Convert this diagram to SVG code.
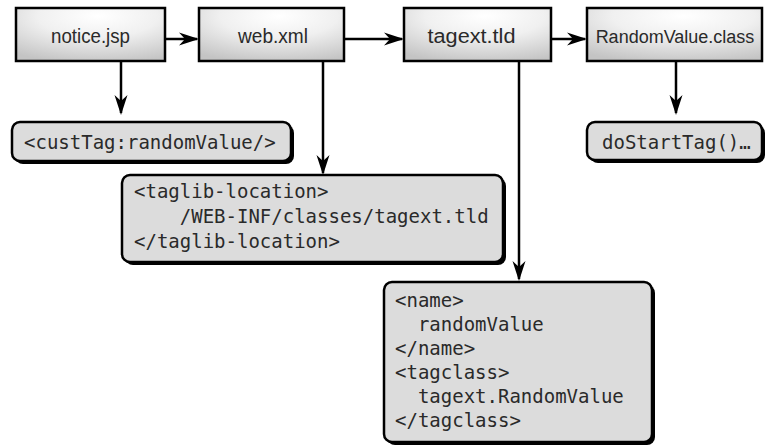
<svg xmlns="http://www.w3.org/2000/svg" width="767" height="448" viewBox="0 0 767 448">
<style>
.top{stroke:#000;stroke-width:2.5;fill:url(#g)}
.tl{font-family:"Liberation Sans",Arial,sans-serif;font-size:20px;fill:#2a2a2a;text-anchor:middle}
.code{fill:#dcdcdc;stroke:#000;stroke-width:2.5}
.sh{fill:#000}
.mono{font-family:"DejaVu Sans Mono","Liberation Mono",monospace;font-size:19px;fill:#2a2a2a}
.c{stroke:#000;stroke-width:2.5;fill:none;marker-end:url(#ah)}
</style>
<defs>
<radialGradient id="g" cx="0.55" cy="0.15" r="0.9">
<stop offset="0" stop-color="#ffffff"/>
<stop offset="0.45" stop-color="#f0f0f0"/>
<stop offset="1" stop-color="#c4c4c4"/>
</radialGradient>
<marker id="ah" viewBox="-21 -7 22 14" refX="-2" refY="0" markerWidth="22" markerHeight="14" markerUnits="userSpaceOnUse" orient="auto">
<path d="M0,0 L-20,-6.5 L-14,0 L-20,6.5 Z" fill="#000"/>
</marker>
</defs>
<g id="connectors">
<line class="c" x1="165" y1="39" x2="197" y2="39"/>
<line class="c" x1="345" y1="39" x2="402" y2="39"/>
<line class="c" x1="552" y1="39" x2="585" y2="39"/>
<line class="c" x1="121" y1="62" x2="121" y2="113"/>
<line class="c" x1="323" y1="62" x2="323" y2="173"/>
<line class="c" x1="519" y1="62" x2="519" y2="279"/>
<line class="c" x1="676" y1="62" x2="676" y2="113"/>
</g>
<g id="notice">
<rect class="top" x="16" y="8" width="149" height="53"/>
<text class="tl" x="90.5" y="43" textLength="79" lengthAdjust="spacingAndGlyphs">notice.jsp</text>
</g>
<g id="webxml">
<rect class="top" x="199" y="8" width="145" height="53"/>
<text class="tl" x="273" y="43" textLength="70" lengthAdjust="spacingAndGlyphs">web.xml</text>
</g>
<g id="tagext">
<rect class="top" x="404" y="8" width="147" height="53"/>
<text class="tl" x="471.5" y="43" textLength="88" lengthAdjust="spacingAndGlyphs">tagext.tld</text>
</g>
<g id="randomvalue">
<rect class="top" x="587" y="8" width="175" height="53"/>
<text class="tl" x="675" y="43" style="font-size:18px">RandomValue.class</text>
</g>
<g id="custtag">
<rect class="sh" x="15" y="125" width="279" height="39" rx="8"/>
<rect class="code" x="12" y="122" width="279" height="39" rx="8"/>
<text class="mono" x="24" y="149">&lt;custTag:randomValue/&gt;</text>
</g>
<g id="taglib">
<rect class="sh" x="125" y="178" width="381" height="87" rx="8"/>
<rect class="code" x="122" y="175" width="381" height="87" rx="8"/>
<text class="mono" x="134" y="198">&lt;taglib-location&gt;</text>
<text class="mono" x="134" y="223" xml:space="preserve">    /WEB-INF/classes/tagext.tld</text>
<text class="mono" x="134" y="248">&lt;/taglib-location&gt;</text>
</g>
<g id="tagdef">
<rect class="sh" x="387" y="285" width="268" height="160" rx="8"/>
<rect class="code" x="384" y="282" width="268" height="160" rx="8"/>
<text class="mono" x="395" y="307">&lt;name&gt;</text>
<text class="mono" x="395" y="331" xml:space="preserve">  randomValue</text>
<text class="mono" x="395" y="355">&lt;/name&gt;</text>
<text class="mono" x="395" y="379">&lt;tagclass&gt;</text>
<text class="mono" x="395" y="403" xml:space="preserve">  tagext.RandomValue</text>
<text class="mono" x="395" y="427">&lt;/tagclass&gt;</text>
</g>
<g id="dostarttag">
<rect class="sh" x="590" y="125" width="175" height="38" rx="8"/>
<rect class="code" x="587" y="122" width="175" height="38" rx="8"/>
<text class="mono" x="602" y="149">doStartTag()…</text>
</g>
</svg>
